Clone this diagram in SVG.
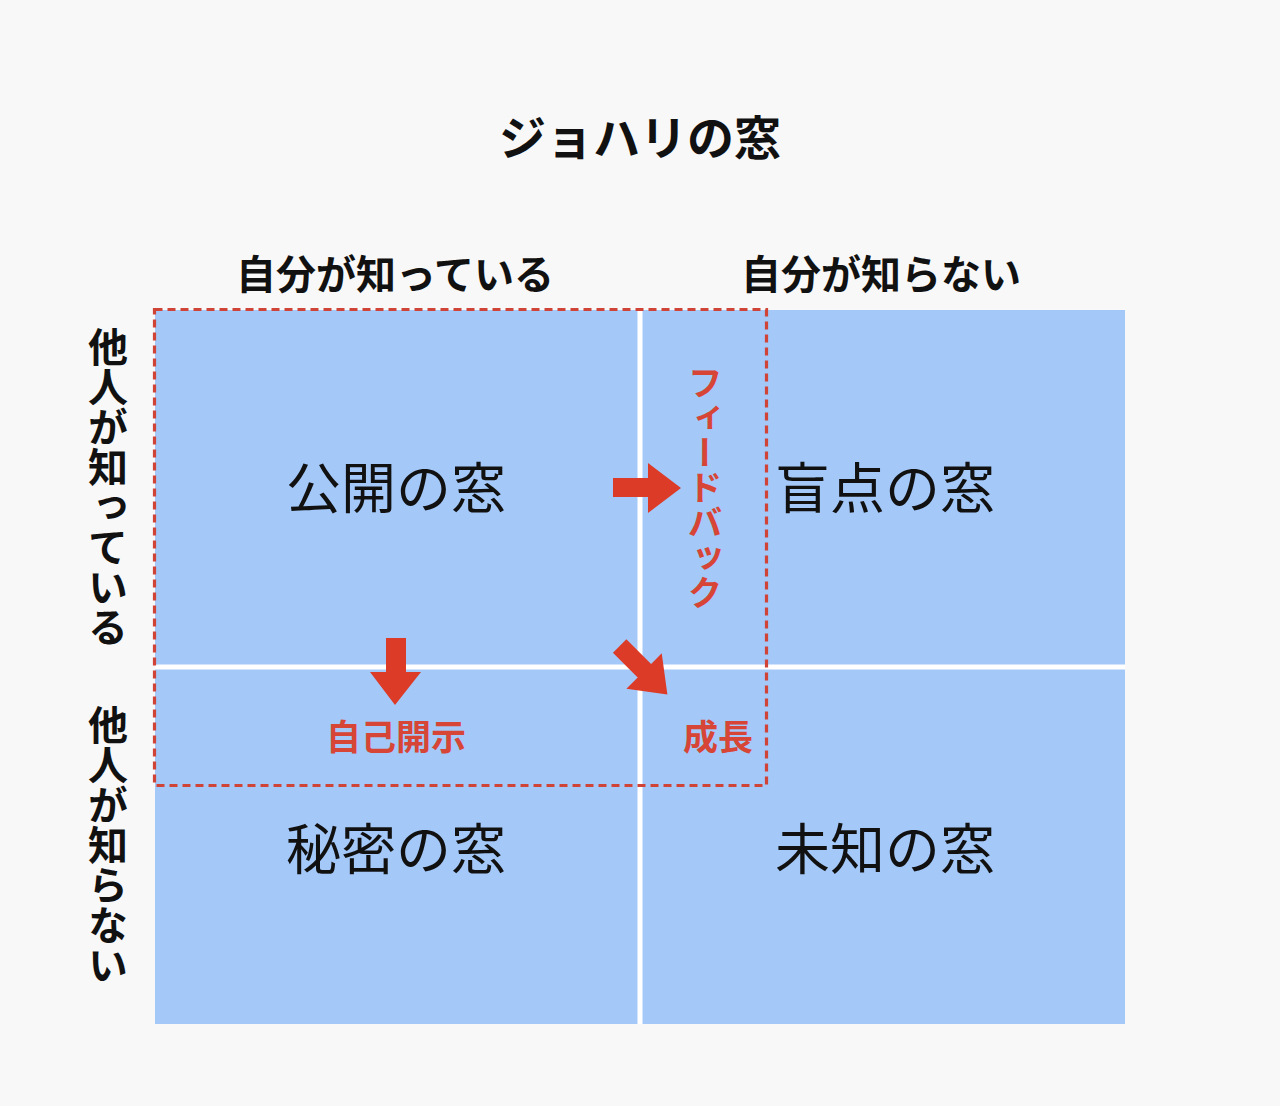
<svg xmlns="http://www.w3.org/2000/svg" width="1280" height="1106" viewBox="0 0 1280 1106">
<style>
text{font-family:"Noto Sans CJK JP","Noto Sans CJK SC",sans-serif;}
.b{font-weight:bold;fill:#111;}
.q{font-size:55px;fill:#111;text-anchor:middle;}
.r{font-weight:bold;fill:#d64535;}
.v{writing-mode:vertical-rl;text-anchor:middle;}
.arr{fill:#dc3b28;}
</style>
<rect width="1280" height="1106" fill="#f8f8f8"/>
<g id="grid">
<rect x="155" y="310" width="970" height="714" fill="#a4c8f8"/>
<rect x="637.5" y="310" width="5" height="714" fill="#ffffff"/>
<rect x="155" y="664.5" width="970" height="5" fill="#ffffff"/>
</g>
<g id="title"><text class="b" x="640" y="155" font-size="47" text-anchor="middle">ジョハリの窓</text></g>
<g id="col-labels">
<text class="b" x="395" y="289" font-size="40" text-anchor="middle">自分が知っている</text>
<text class="b" x="881" y="289" font-size="40" text-anchor="middle">自分が知らない</text>
</g>
<g id="row-labels">
<text class="b v" x="108" y="487" font-size="40">他人が知っている</text>
<text class="b v" x="108" y="845" font-size="40">他人が知らない</text>
</g>
<g id="open"><text class="q" x="396" y="508">公開の窓</text></g>
<g id="blind"><text class="q" x="885" y="508">盲点の窓</text></g>
<g id="hidden"><text class="q" x="396" y="869">秘密の窓</text></g>
<g id="unknown"><text class="q" x="885" y="869">未知の窓</text></g>
<g id="growth-area">
<rect x="154.5" y="309.5" width="612" height="476" fill="none" stroke="#d04438" stroke-width="3.2" stroke-dasharray="8 5"/>
</g>
<g id="connectors">
<polygon class="arr" points="613,478 648,478 648,463 681,488 648,513 648,497 613,497"/>
<polygon class="arr" points="386,638 406,638 406,672 421,672 395,705 370,672 386,672"/>
<polygon class="arr" points="613,478 648,478 648,463 681,488 648,513 648,497 613,497" transform="translate(649,676) rotate(45) translate(-655,-488)"/>
</g>
<g id="labels">
<text class="r v" x="705" y="488" font-size="35">フィードバック</text>
<text class="r" x="396" y="750" font-size="35" text-anchor="middle">自己開示</text>
<text class="r" x="718" y="750" font-size="35" text-anchor="middle">成長</text>
</g>
</svg>
